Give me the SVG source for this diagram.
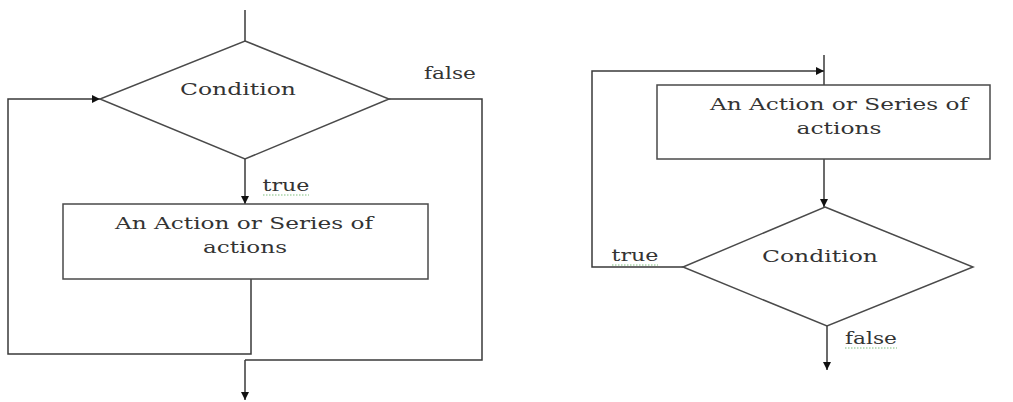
<svg xmlns="http://www.w3.org/2000/svg" width="1013" height="402" viewBox="0 0 1013 402">
<style>
.shape{fill:#fff;stroke:#4a4a4a;stroke-width:1.5}
.ln{fill:none;stroke:#3a3a3a;stroke-width:1.5}
.t{font-family:"DejaVu Serif","Liberation Serif",serif;font-size:17.5px;fill:#333;text-anchor:middle}
.sq{fill:none;stroke:#7fbf7f;stroke-width:1;stroke-dasharray:1.5 1.5}
</style>
<defs>
<marker id="ah" viewBox="0 0 10 10" refX="10" refY="5" markerWidth="8" markerHeight="8" markerUnits="userSpaceOnUse" orient="auto">
<path d="M0,0 L10,5 L0,10 z" fill="#111"/>
</marker>
</defs>
<rect width="1013" height="402" fill="#fff"/>
<g id="connectors">
<line class="ln" x1="245" y1="10" x2="245" y2="41"/>
<line class="ln" x1="245" y1="159" x2="245" y2="204" marker-end="url(#ah)"/>
<polyline class="ln" points="251,279 251,354 8,354 8,99 100,99" marker-end="url(#ah)"/>
<polyline class="ln" points="389,99 482,99 482,360 245,360"/>
<line class="ln" x1="245" y1="360" x2="245" y2="400" marker-end="url(#ah)"/>
<line class="ln" x1="824" y1="55" x2="824" y2="85"/>
<polyline class="ln" points="683,267 592,267 592,71 824,71" marker-end="url(#ah)"/>
<line class="ln" x1="824" y1="159" x2="824" y2="207" marker-end="url(#ah)"/>
<line class="ln" x1="827" y1="326" x2="827" y2="370" marker-end="url(#ah)"/>
<text class="t" x="450" y="79" textLength="52" lengthAdjust="spacingAndGlyphs">false</text>
<text class="t" x="286" y="191" textLength="47" lengthAdjust="spacingAndGlyphs">true</text>
<path class="sq" d="M263,195 H309"/>
<text class="t" x="635" y="261" textLength="47" lengthAdjust="spacingAndGlyphs">true</text>
<path class="sq" d="M612,265 H658"/>
<text class="t" x="871" y="344" textLength="52" lengthAdjust="spacingAndGlyphs">false</text>
<path class="sq" d="M845,348 H897"/>
</g>
<g id="cond1">
<polygon class="shape" points="245,41 389,99 245,159 100,99"/>
<text class="t" x="238" y="95" textLength="116" lengthAdjust="spacingAndGlyphs">Condition</text>
</g>
<g id="action1">
<rect class="shape" x="63" y="204" width="365" height="75"/>
<text class="t" x="244" y="229" textLength="258" lengthAdjust="spacingAndGlyphs">An Action or Series of</text>
<text class="t" x="245" y="253" textLength="84" lengthAdjust="spacingAndGlyphs">actions</text>
</g>
<g id="action2">
<rect class="shape" x="657" y="85" width="333" height="74"/>
<text class="t" x="839" y="110" textLength="258" lengthAdjust="spacingAndGlyphs">An Action or Series of</text>
<text class="t" x="839" y="134" textLength="85" lengthAdjust="spacingAndGlyphs">actions</text>
</g>
<g id="cond2">
<polygon class="shape" points="825,207 973,267 827,326 683,267"/>
<text class="t" x="820" y="262" textLength="116" lengthAdjust="spacingAndGlyphs">Condition</text>
</g>
</svg>
